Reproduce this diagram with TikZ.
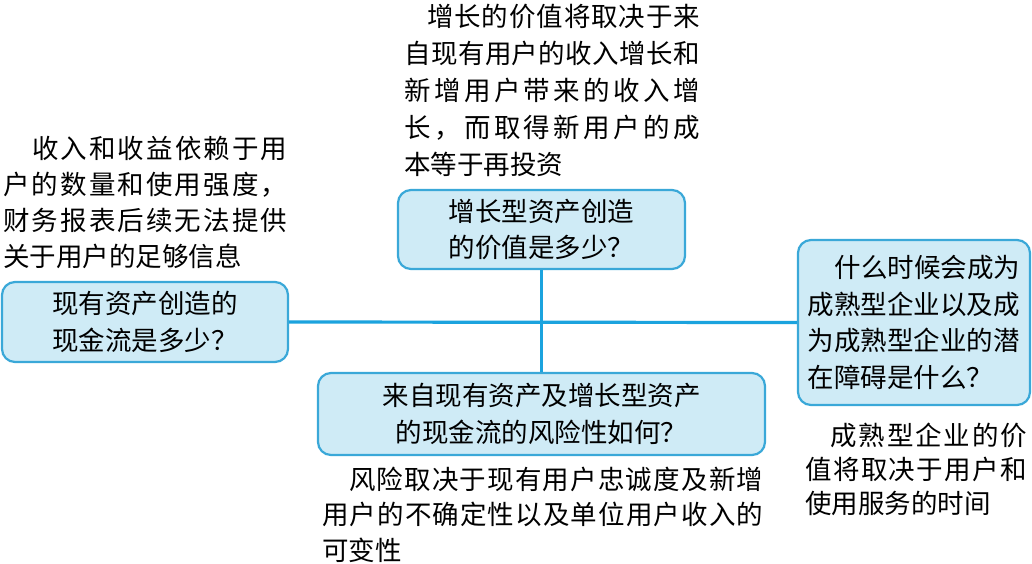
\documentclass[tikz,border=0pt]{standalone}
\usepackage{fontspec}
\newfontfamily\cjk{Noto Sans CJK SC}
\definecolor{boxfill}{HTML}{CFEBF6}
\definecolor{boxline}{HTML}{3AA8D8}
\definecolor{connline}{HTML}{1BA3DE}
\def\spreadA#1#2\relax{#1\spreadB#2\relax}
\def\spreadB#1{\ifx\relax#1\else\hfil#1\expandafter\spreadB\fi}
\newcommand\jl[2]{\hbox to #1{\spreadA#2\relax}}
\newcommand\jli[3]{\hbox to #1{\hskip#2\spreadA#3\relax}}
\tikzset{
  qbox/.style={draw=boxline, line width=2.2pt, fill=boxfill, rounded corners=13pt,
    inner sep=0pt, font=\cjk\fontsize{26.5}{36.5}\selectfont},
  conn/.style={draw=connline, line width=3.2pt},
  note/.style={inner sep=0pt, anchor=base west}
}
\begin{document}
\begin{tikzpicture}[x=1pt,y=-1pt]
\useasboundingbox[fill=white] (0,0) rectangle (1032,563);

% question boxes
\node[qbox, minimum width=286pt, minimum height=80pt, align=left] (L) at (145,322)
  {现有资产创造的\\现金流是多少？};
\node[qbox, minimum width=287pt, minimum height=79pt, align=left] (T) at (541.5,229.5)
  {增长型资产创造\\的价值是多少？};
\node[qbox, minimum width=232pt, minimum height=165pt, align=left] (R) at (914,322.5)
  {\hspace*{27pt}什么时候会成为\\成熟型企业以及成\\为成熟型企业的潜\\在障碍是什么？};
\node[qbox, minimum width=447pt, minimum height=82pt, align=center] (B) at (541.5,414)
  {来自现有资产及增长型资产\\的现金流的风险性如何？};

% connectors
\draw[conn] (L.east) -- (R.west);
\draw[conn] (T.south) -- (B.north);

% notes
\begin{scope}[every node/.style={note}]
\node[font=\cjk\fontsize{26.5}{37}\selectfont] (nT) at (404,26) {\vtop{%
  \jli{296pt}{23pt}{增长的价值将取决于来}
  \jl{296pt}{自现有用户的收入增长和}
  \jl{296pt}{新增用户带来的收入增}
  \jl{296pt}{长，而取得新用户的成}
  \hbox{本等于再投资}}};
\node[font=\cjk\fontsize{26.5}{36}\selectfont] (nL) at (3,158) {\vtop{%
  \jli{284pt}{29pt}{收入和收益依赖于用}
  \jl{284pt}{户的数量和使用强度，}
  \jl{284pt}{财务报表后续无法提供}
  \hbox{关于用户的足够信息}}};
\node[font=\cjk\fontsize{26.5}{34}\selectfont] (nR) at (805,445) {\vtop{%
  \jli{222pt}{25pt}{成熟型企业的价}
  \jl{222pt}{值将取决于用户和}
  \hbox{使用服务的时间}}};
\node[font=\cjk\fontsize{26.5}{35.5}\selectfont] (nB) at (322,489) {\vtop{%
  \jli{441pt}{27pt}{风险取决于现有用户忠诚度及新增}
  \jl{441pt}{用户的不确定性以及单位用户收入的}
  \hbox{可变性}}};
\end{scope}
\end{tikzpicture}
\end{document}
